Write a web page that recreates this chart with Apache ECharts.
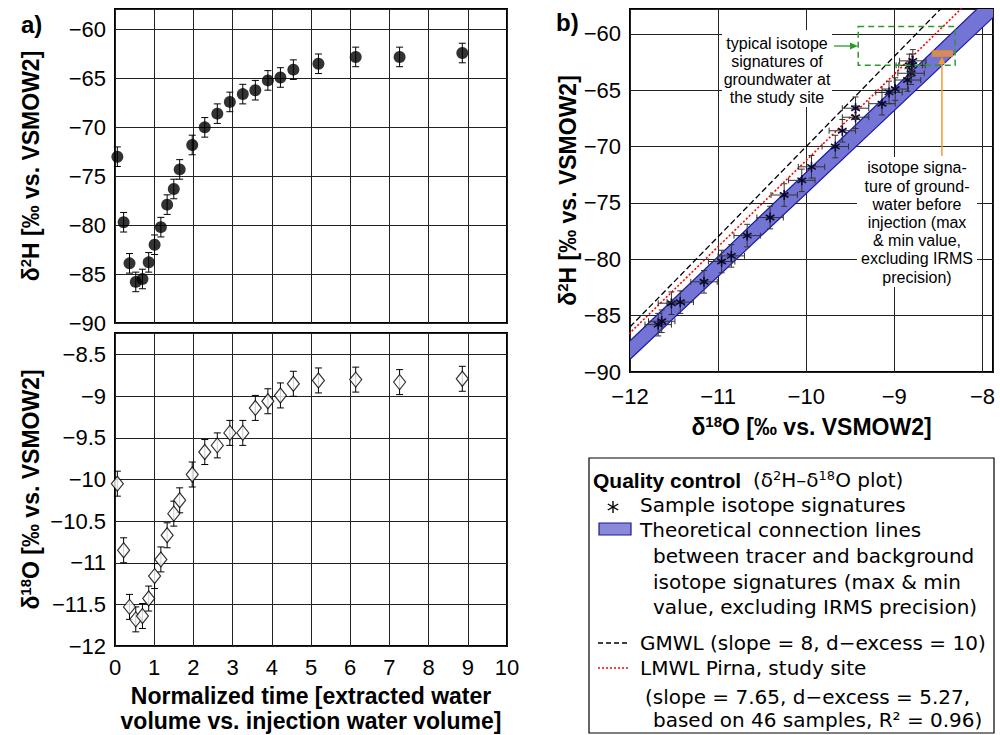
<!DOCTYPE html>
<html><head><meta charset="utf-8">
<script src="https://cdn.jsdelivr.net/npm/echarts@6/dist/echarts.min.js"></script>
<style>html,body{margin:0;padding:0;background:#fff}#c{width:1000px;height:735px}</style>
</head><body><div id="c"></div>
<script>
// ---------- data ----------
const normTime = [0.06,0.22,0.37,0.53,0.70,0.86,1.01,1.17,1.33,1.50,1.65,1.97,2.29,2.61,2.93,3.26,3.58,3.90,4.22,4.55,5.19,6.14,7.26,8.86];
const d2H  = [-73.0,-79.7,-83.9,-85.8,-85.5,-83.8,-82.0,-80.2,-77.9,-76.3,-74.3,-71.8,-70.0,-68.6,-67.4,-66.6,-66.2,-65.2,-64.9,-64.1,-63.5,-62.8,-62.8,-62.4];
const d18O = [-10.05,-10.85,-11.53,-11.68,-11.64,-11.43,-11.16,-10.96,-10.67,-10.41,-10.25,-9.94,-9.67,-9.59,-9.44,-9.44,-9.14,-9.06,-8.99,-8.85,-8.81,-8.80,-8.83,-8.79];
const errH = 1.0;
const errO = 0.15;
// lines in panel b (endpoints)
const gmwlLine = [[-12.5,-90.0],[-7.5,-50.0]];          // slope 8, d-excess 10
const lmwlLine = [[-12.5,-90.355],[-7.5,-52.105]];      // slope 7.65, d-excess 5.27
const bandUpper = [[-12.5,-90.97],[-7.5,-53.6]];
const bandLower = [[-12.5,-92.56],[-7.5,-55.76]];
const greenBoxX = [-9.41,-8.31], greenBoxY = [-62.78,-59.35];
const orangeBoxX = [-8.57,-8.34], orangeBoxY = [-62.0,-61.5];
const orangeArrow = [[-8.46,-70.85],[-8.46,-62.05]];
// tick settings
const timeTicks = {min:0, max:10, step:1};
const hTicks = {min:-90, step:5};
const oTicks = {min:-12, step:0.5};
const oxTicks = {min:-12, step:1};

// ---------- helpers ----------
const FF = 'Liberation Sans, Arial, sans-serif';
const LF = 'DejaVu Sans, Verdana, sans-serif';
const minus = s => String(s).replace('-', '\u2212');
const fmtStep = step => v => Math.abs(v/step - Math.round(v/step)) < 1e-6 ? minus(+v.toFixed(2)) : '';
const ln = (x1,y1,x2,y2,stroke,w,dash) => ({type:'line', shape:{x1,y1,x2,y2}, style:{stroke, lineWidth:w||1, lineDash:dash||null}});
const gridLine = {lineStyle:{color:'#222', width:1}};
const tickLbl = (step, extra) => Object.assign({fontSize:22, fontFamily:FF, color:'#000', formatter:fmtStep(step)}, extra||{});
const richName = {
  n:{fontSize:23, fontWeight:'bold', fontFamily:FF, color:'#000', lineHeight:26},
  s:{fontSize:15, fontWeight:'bold', fontFamily:FF, color:'#000', verticalAlign:'top', lineHeight:26}
};

function vErr(params, api){
  const x = api.value(0), y = api.value(1), e = api.value(2);
  const t = api.coord([x, y+e]), b = api.coord([x, y-e]);
  const c = 3.5;
  return {type:'group', children:[
    ln(t[0],t[1],b[0],b[1],'#000',1),
    ln(t[0]-c,t[1],t[0]+c,t[1],'#000',1),
    ln(b[0]-c,b[1],b[0]+c,b[1],'#000',1)
  ]};
}
function sampleB(params, api){
  const x = api.value(0), y = api.value(1);
  const p = api.coord([x,y]);
  const l = api.coord([x-errO,y]), r = api.coord([x+errO,y]);
  const t = api.coord([x,y+errH]), b = api.coord([x,y-errH]);
  const c = 3, col = '#333';
  const ch = [
    ln(l[0],l[1],r[0],r[1],col,1), ln(l[0],l[1]-c,l[0],l[1]+c,col,1), ln(r[0],r[1]-c,r[0],r[1]+c,col,1),
    ln(t[0],t[1],b[0],b[1],col,1), ln(t[0]-c,t[1],t[0]+c,t[1],col,1), ln(b[0]-c,b[1],b[0]+c,b[1],col,1)
  ];
  const R = 5;
  [90,30,150].forEach(a=>{
    const dx = R*Math.cos(a*Math.PI/180), dy = R*Math.sin(a*Math.PI/180);
    ch.push(ln(p[0]-dx,p[1]-dy,p[0]+dx,p[1]+dy,'#0a0a30',1.6));
  });
  return {type:'group', children:ch};
}
function bandItem(params, api){
  const a = api.coord(bandLower[0]), b = api.coord(bandLower[1]);
  const c = api.coord(bandUpper[1]), d = api.coord(bandUpper[0]);
  return {type:'group', children:[
    {type:'polygon', shape:{points:[a,b,c,d]}, style:{fill:'#7474d4'}},
    ln(a[0],a[1],b[0],b[1],'#1a1aa8',1.2),
    ln(d[0],d[1],c[0],c[1],'#1a1aa8',1.2)
  ]};
}
function annotItem(params, api){
  const g1 = api.coord([greenBoxX[0], greenBoxY[1]]), g2 = api.coord([greenBoxX[1], greenBoxY[0]]);
  const o1 = api.coord([orangeBoxX[0], orangeBoxY[1]]), o2 = api.coord([orangeBoxX[1], orangeBoxY[0]]);
  const a1 = api.coord(orangeArrow[0]), a2 = api.coord(orangeArrow[1]);
  return {type:'group', children:[
    {type:'rect', shape:{x:g1[0], y:g1[1], width:g2[0]-g1[0], height:g2[1]-g1[1]},
      style:{fill:null, stroke:'#2e9a2e', lineWidth:1.5, lineDash:[6,4]}},
    {type:'rect', shape:{x:o1[0], y:o1[1], width:o2[0]-o1[0], height:o2[1]-o1[1]},
      style:{fill:'rgba(240,150,60,0.75)', stroke:'#e8862a', lineWidth:1}},
    ln(a1[0],a1[1],a2[0],a2[1]+4,'#f39a30',1.5),
    {type:'polygon', shape:{points:[[a2[0],a2[1]],[a2[0]-3.5,a2[1]+7],[a2[0]+3.5,a2[1]+7]]}, style:{fill:'#f39a30'}}
  ]};
}

// ---------- chart ----------
const chart = echarts.init(document.getElementById('c'), null, {renderer:'svg'});
const gridStyle = {show:true, borderColor:'#000', borderWidth:2, backgroundColor:'transparent'};
const legendX = 589, legendY = 458;
const txt = (text, x, y, extra) => ({type:'text', x, y, z:20, style:Object.assign({text, fontSize:20, fontFamily:LF, fill:'#000', verticalAlign:'middle', align:'left'}, extra||{})});
const gl = (x1,y1,x2,y2,stroke,w,dash) => ({type:'line', z:20, shape:{x1,y1,x2,y2}, style:{stroke, lineWidth:w, lineDash:dash||null}});

chart.setOption({
  animation:false,
  grid:[
    Object.assign({left:115, top:9, width:392, height:314}, gridStyle),
    Object.assign({left:115, top:333, width:392, height:313}, gridStyle),
    Object.assign({left:630, top:9, width:363, height:363}, gridStyle)
  ],
  xAxis:[
    {gridIndex:0, type:'value', min:timeTicks.min, max:timeTicks.max, interval:timeTicks.step,
      axisLabel:{show:false}, axisTick:{show:false}, axisLine:{show:false}, splitLine:gridLine},
    {gridIndex:1, type:'value', min:timeTicks.min, max:timeTicks.max, interval:timeTicks.step,
      axisLabel:tickLbl(1,{margin:10}), axisTick:{show:false}, axisLine:{show:false}, splitLine:gridLine,
      name:'Normalized time [extracted water\nvolume vs. injection water volume]', nameLocation:'middle', nameGap:37,
      nameTextStyle:{fontSize:23, fontWeight:'bold', fontFamily:FF, color:'#000', lineHeight:25}},
    {gridIndex:2, type:'value', min:oxTicks.min, max:-7.88, interval:oxTicks.step,
      axisLabel:tickLbl(1,{margin:13}), axisTick:{show:false}, axisLine:{show:false}, splitLine:gridLine,
      name:'{n|δ}{s|18}{n|O [‰ vs. VSMOW2]}', nameLocation:'middle', nameGap:42, nameTextStyle:{rich:richName}}
  ],
  yAxis:[
    {gridIndex:0, type:'value', min:hTicks.min, max:-57.9, interval:hTicks.step,
      axisLabel:tickLbl(5,{margin:9}), axisTick:{show:false}, axisLine:{show:false}, splitLine:gridLine,
      name:'{n|δ}{s|2}{n|H [‰ vs. VSMOW2]}', nameLocation:'middle', nameGap:71, nameTextStyle:{rich:richName}},
    {gridIndex:1, type:'value', min:oTicks.min, max:-8.24, interval:oTicks.step,
      axisLabel:tickLbl(0.5,{margin:9}), axisTick:{show:false}, axisLine:{show:false}, splitLine:gridLine,
      name:'{n|δ}{s|18}{n|O [‰ vs. VSMOW2]}', nameLocation:'middle', nameGap:71, nameTextStyle:{rich:richName}},
    {gridIndex:2, type:'value', min:hTicks.min, max:-57.8, interval:hTicks.step,
      axisLabel:tickLbl(5,{margin:9}), axisTick:{show:false}, axisLine:{show:false}, splitLine:gridLine,
      name:'{n|δ}{s|2}{n|H [‰ vs. VSMOW2]}', nameLocation:'middle', nameGap:40, nameTextStyle:{rich:richName}}
  ],
  series:[
    {type:'custom', xAxisIndex:0, yAxisIndex:0, z:2, renderItem:vErr,
      data:normTime.map((t,i)=>[t,d2H[i],errH])},
    {type:'scatter', xAxisIndex:0, yAxisIndex:0, z:3, symbol:'circle', symbolSize:12,
      itemStyle:{color:'#000'}, data:normTime.map((t,i)=>[t,d2H[i]])},
    {type:'custom', xAxisIndex:1, yAxisIndex:1, z:2, renderItem:vErr,
      data:normTime.map((t,i)=>[t,d18O[i],errO])},
    {type:'scatter', xAxisIndex:1, yAxisIndex:1, z:3, symbol:'diamond', symbolSize:[12,15],
      itemStyle:{color:'#fff', borderColor:'#000', borderWidth:1.2}, data:normTime.map((t,i)=>[t,d18O[i]])},
    {type:'custom', xAxisIndex:2, yAxisIndex:2, z:2, clip:true, renderItem:bandItem, data:[[-10,-75]]},
    {type:'line', xAxisIndex:2, yAxisIndex:2, z:3, showSymbol:false, symbol:'none', data:gmwlLine,
      lineStyle:{color:'#000', width:1.3, type:[6,3]}},
    {type:'line', xAxisIndex:2, yAxisIndex:2, z:3, showSymbol:false, symbol:'none', data:lmwlLine,
      lineStyle:{color:'#ff0000', width:1.6, type:[2,2]}},
    {type:'custom', xAxisIndex:2, yAxisIndex:2, z:4, renderItem:sampleB,
      data:d18O.map((x,i)=>[x,d2H[i]])},
    {type:'custom', xAxisIndex:2, yAxisIndex:2, z:5, renderItem:annotItem, data:[[-9,-62]]}
  ],
  graphic:[
    {type:'text', x:21, y:24, style:{text:'a)', fontSize:24, fontWeight:'bold', fontFamily:FF, fill:'#000', verticalAlign:'middle'}},
    {type:'text', x:556, y:22, style:{text:'b)', fontSize:24, fontWeight:'bold', fontFamily:FF, fill:'#000', verticalAlign:'middle'}},
    // annotation 1
    {type:'rect', z:10, shape:{x:722, y:30, width:110, height:77}, style:{fill:'#fff'}},
    {type:'text', z:11, x:777, y:70, style:{text:'typical isotope\nsignatures of\ngroundwater at\nthe study site',
      fontSize:16, lineHeight:18, fontFamily:FF, fill:'#000', align:'center', verticalAlign:'middle'}},
    {type:'line', z:11, shape:{x1:834, y1:46, x2:852, y2:46}, style:{stroke:'#2e9a2e', lineWidth:1.3}},
    {type:'polygon', z:11, shape:{points:[[858,46],[850,42.5],[850,49.5]]}, style:{fill:'#2e9a2e'}},
    // annotation 2
    {type:'rect', z:10, shape:{x:857, y:157, width:120, height:130}, style:{fill:'#fff'}},
    {type:'text', z:11, x:917, y:222.5, style:{text:'isotope signa-\nture of ground-\nwater before\ninjection (max\n& min value,\nexcluding IRMS\nprecision)',
      fontSize:16, lineHeight:18.2, fontFamily:FF, fill:'#000', align:'center', verticalAlign:'middle'}},
    // legend box
    {type:'rect', z:15, shape:{x:legendX, y:legendY, width:405, height:275}, style:{fill:'#fff', stroke:'#000', lineWidth:1.2}},
    txt('Quality control', 593, 480, {fontFamily:FF, fontWeight:'bold', fontSize:21}),
    txt('(δ{s|2}H–δ{s|18}O plot)', 753, 480, {rich:{s:{fontSize:13, fontFamily:LF, verticalAlign:'top', lineHeight:22}}, lineHeight:22}),
    gl(613,501,613,513,'#000',1.4), gl(607.8,504,618.2,510,'#000',1.4), gl(607.8,510,618.2,504,'#000',1.4),
    txt('Sample isotope signatures', 640, 505),
    {type:'rect', z:20, shape:{x:599, y:523, width:32, height:12}, style:{fill:'#8a8ad8', stroke:'#1a1a9a', lineWidth:1.2}},
    txt('Theoretical connection lines', 640, 530),
    txt('between tracer and background', 653, 556),
    txt('isotope signatures (max & min', 653, 582),
    txt('value, excluding IRMS precision)', 653, 607),
    gl(598,643,630,643,'#000',1.3,[5,3]),
    txt('GMWL (slope = 8, d\u2212excess = 10)', 640, 643),
    gl(598,668,630,668,'#ff0000',1.3,[2,2]),
    txt('LMWL Pirna, study site', 640, 668),
    txt('(slope = 7.65, d\u2212excess = 5.27,', 645, 697),
    txt('based on 46 samples, R² = 0.96)', 653, 720)
  ]
});
</script></body></html>
